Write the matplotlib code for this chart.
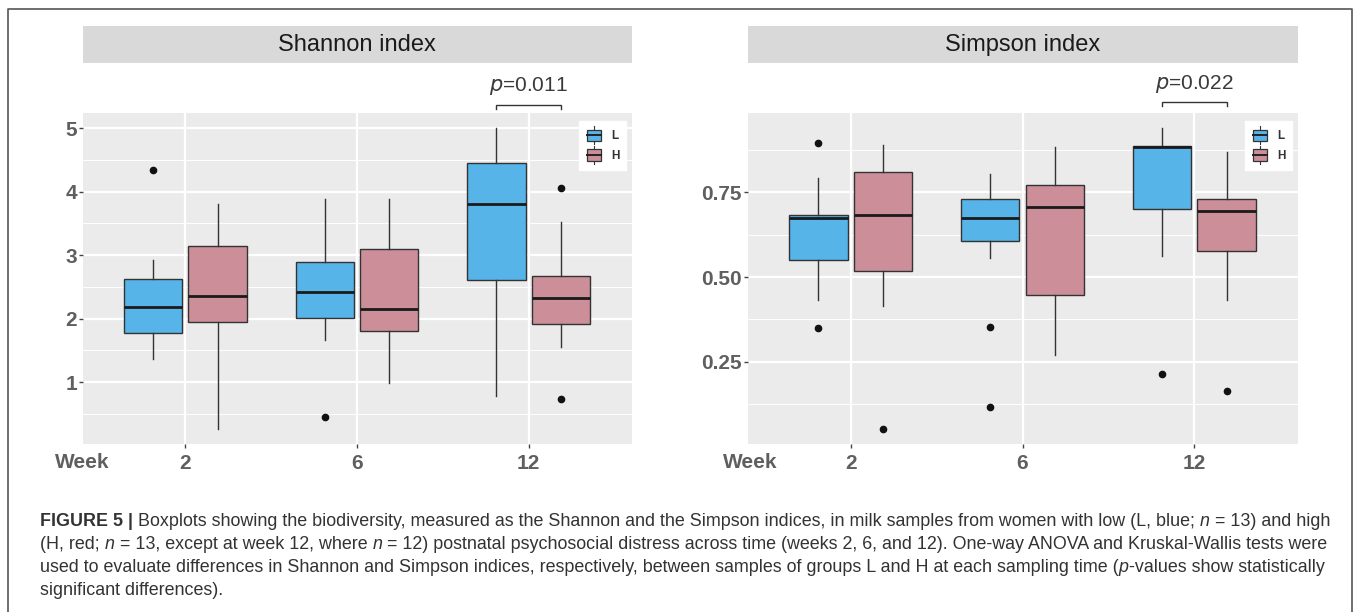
import matplotlib
matplotlib.use("Agg")
import matplotlib.pyplot as plt
from matplotlib.patches import Patch, Rectangle
from matplotlib.lines import Line2D
from matplotlib.legend_handler import HandlerBase

plt.rcParams['font.family'] = ['Liberation Sans', 'DejaVu Sans']

# ---------------- data ----------------
weeks = ['2', '6', '12']
groups = ['L', 'H']
group_colors = ['#56B4E9', '#CC8F9A']

# Shannon index
sh_L_whislo = [1.37, 1.67, 0.78]
sh_L_q1 = [1.77, 2.01, 2.61]
sh_L_med = [2.18, 2.42, 3.81]
sh_L_q3 = [2.63, 2.90, 4.45]
sh_L_whishi = [2.93, 3.89, 5.00]
sh_L_fliers = [[4.34], [0.45], []]

sh_H_whislo = [0.26, 0.99, 1.55]
sh_H_q1 = [1.94, 1.81, 1.91]
sh_H_med = [2.36, 2.15, 2.32]
sh_H_q3 = [3.14, 3.09, 2.67]
sh_H_whishi = [3.81, 3.88, 3.52]
sh_H_fliers = [[], [], [4.06, 0.74]]

# Simpson index
si_L_whislo = [0.433, 0.557, 0.562]
si_L_q1 = [0.551, 0.605, 0.701]
si_L_med = [0.673, 0.673, 0.885]
si_L_q3 = [0.682, 0.731, 0.887]
si_L_whishi = [0.792, 0.803, 0.939]
si_L_fliers = [[0.896, 0.351], [0.353, 0.117], [0.214]]

si_H_whislo = [0.416, 0.269, 0.432]
si_H_q1 = [0.518, 0.448, 0.578]
si_H_med = [0.684, 0.706, 0.696]
si_H_q3 = [0.809, 0.772, 0.730]
si_H_whishi = [0.889, 0.885, 0.869]
si_H_fliers = [[0.052], [], [0.164]]

sh_yticks = [1, 2, 3, 4, 5]
sh_yticklabels = ['1', '2', '3', '4', '5']
si_yticks = [0.25, 0.50, 0.75]
si_yticklabels = ['0.25', '0.50', '0.75']

panel_titles = ['Shannon index', 'Simpson index']
p_labels = ['0.011', '0.022']
p_week_index = 2

caption_lines = [
    [("FIGURE 5 | ", 'bold'), ("Boxplots showing the biodiversity, measured as the Shannon and the Simpson indices, in milk samples from women with low (L, blue; ", 'normal'),
     ("n", 'italic'), (" = 13) and high", 'normal')],
    [("(H, red; ", 'normal'), ("n", 'italic'), (" = 13, except at week 12, where ", 'normal'), ("n", 'italic'),
     (" = 12) postnatal psychosocial distress across time (weeks 2, 6, and 12). One-way ANOVA and Kruskal-Wallis tests were", 'normal')],
    [("used to evaluate differences in Shannon and Simpson indices, respectively, between samples of groups L and H at each sampling time (", 'normal'),
     ("p", 'italic'), ("-values show statistically", 'normal')],
    [("significant differences).", 'normal')],
]

# ---------------- figure ----------------
W, H = 1360, 612
fig = plt.figure(figsize=(W / 100, H / 100), dpi=100)
fig.patch.set_facecolor('white')

def fx(px):
    return px / W

def fy(py):
    return 1 - py / H

PANEL_BG = '#EBEBEB'
STRIP_BG = '#D9D9D9'
TICK_COL = '#5f5f5f'
DODGE = 0.1875
BOX_W = 0.34


class BoxKey(HandlerBase):
    def create_artists(self, legend, orig_handle, xdescent, ydescent,
                       width, height, fontsize, trans):
        fc = orig_handle.get_facecolor()
        cx = width / 2 - xdescent
        bw = width * 0.8
        bh = height * 0.62
        y0 = (height - bh) / 2 - ydescent
        rect = Rectangle((cx - bw / 2, y0), bw, bh, facecolor=fc,
                         edgecolor='#333333', lw=0.9, transform=trans)
        med = Line2D([cx - bw / 2, cx + bw / 2], [y0 + bh / 2] * 2,
                     color='#222222', lw=1.4, transform=trans)
        w1 = Line2D([cx, cx], [-ydescent, y0], color='#333333', lw=0.8, transform=trans)
        w2 = Line2D([cx, cx], [y0 + bh, height - ydescent], color='#333333', lw=0.8, transform=trans)
        return [w1, w2, rect, med]


def draw_panel(ax_rect, strip_rect, title, stats_L, stats_H, ylim, yticks, yticklabels,
               minor, p_text, p_y, p_tick, p_text_y, week_x_px):
    ax = fig.add_axes(ax_rect)
    ax.set_facecolor(PANEL_BG)
    for s in ax.spines.values():
        s.set_visible(False)
    pos = list(range(len(weeks)))
    for stats, off, col in ((stats_L, -DODGE, group_colors[0]), (stats_H, DODGE, group_colors[1])):
        ax.bxp(stats, positions=[p + off for p in pos], widths=BOX_W, showcaps=False,
               patch_artist=True, manage_ticks=False,
               boxprops=dict(facecolor=col, edgecolor='#333333', linewidth=1.0),
               medianprops=dict(color='#1a1a1a', linewidth=2.0),
               whiskerprops=dict(color='#333333', linewidth=1.0),
               flierprops=dict(marker='o', markerfacecolor='#111111', markeredgecolor='#111111',
                               markersize=4.5, linestyle='none'), zorder=3)
    ax.set_xlim(-0.6, len(weeks) - 0.4)
    ax.set_ylim(*ylim)
    ax.set_xticks(pos)
    ax.set_xticklabels(weeks)
    ax.set_yticks(yticks)
    ax.set_yticklabels(yticklabels)
    ax.set_yticks(minor, minor=True)
    ax.grid(True, which='major', color='white', linewidth=1.6, zorder=0)
    ax.grid(True, which='minor', axis='y', color='white', linewidth=0.7, zorder=0)
    ax.set_axisbelow(True)
    ax.tick_params(axis='both', which='major', length=3, width=1, color='#444444',
                   labelsize=15, labelcolor=TICK_COL)
    ax.tick_params(axis='x', pad=4)
    ax.tick_params(axis='y', pad=1)
    ax.tick_params(which='minor', length=0)
    for lab in ax.get_xticklabels() + ax.get_yticklabels():
        lab.set_fontweight('bold')
    # p-value bracket
    x1 = p_week_index - DODGE
    x2 = p_week_index + DODGE
    ax.plot([x1, x1, x2, x2], [p_tick, p_y, p_y, p_tick], color='#333333', lw=1.0,
            clip_on=False, solid_joinstyle='miter')
    ax.text(p_week_index, p_text_y, r'$\it{p}$=' + p_text, ha='center', va='center',
            fontsize=15, color='#3a3a3a', clip_on=False)
    # legend
    handles = [Patch(facecolor=c, edgecolor='#333333') for c in group_colors]
    leg = ax.legend(handles, groups, loc='upper right', bbox_to_anchor=(0.99, 0.978),
                    handler_map={Patch: BoxKey()}, frameon=True, fancybox=False,
                    facecolor='white', edgecolor='white', framealpha=1,
                    prop=dict(size=8.5, weight='bold'), handlelength=1.45, handleheight=1.95,
                    labelspacing=0.15, borderpad=0.5, handletextpad=0.8, borderaxespad=0)
    for t in leg.get_texts():
        t.set_color('#333333')
    # strip
    sax = fig.add_axes(strip_rect)
    sax.set_facecolor(STRIP_BG)
    sax.set_xticks([])
    sax.set_yticks([])
    for s in sax.spines.values():
        s.set_visible(False)
    sax.text(0.5, 0.5, title, ha='center', va='center', fontsize=17, color='#1a1a1a',
             transform=sax.transAxes)
    # Week label
    fig.text(fx(week_x_px), fy(463), 'Week', ha='left', va='center', fontsize=15,
             fontweight='bold', color=TICK_COL)
    return ax


def mkstats(whislo, q1, med, q3, whishi, fliers):
    return [dict(whislo=a, q1=b, med=c, q3=d, whishi=e, fliers=f)
            for a, b, c, d, e, f in zip(whislo, q1, med, q3, whishi, fliers)]


sh_L = mkstats(sh_L_whislo, sh_L_q1, sh_L_med, sh_L_q3, sh_L_whishi, sh_L_fliers)
sh_H = mkstats(sh_H_whislo, sh_H_q1, sh_H_med, sh_H_q3, sh_H_whishi, sh_H_fliers)
si_L = mkstats(si_L_whislo, si_L_q1, si_L_med, si_L_q3, si_L_whishi, si_L_fliers)
si_H = mkstats(si_H_whislo, si_H_q1, si_H_med, si_H_q3, si_H_whishi, si_H_fliers)

ax_top, ax_bot = 113.3, 444.0
strip_top, strip_bot = 26.0, 63.3

L_x0, L_x1 = 82.5, 631.5
R_x0, R_x1 = 747.5, 1297.5

ax1 = draw_panel([fx(L_x0), fy(ax_bot), fx(L_x1 - L_x0), (ax_bot - ax_top) / H],
                 [fx(L_x0), fy(strip_bot), fx(L_x1 - L_x0), (strip_bot - strip_top) / H],
                 panel_titles[0], sh_L, sh_H, (0.023, 5.237), sh_yticks, sh_yticklabels,
                 [0.5, 1.5, 2.5, 3.5, 4.5], p_labels[0], 5.36, 5.30, 5.66, 55)
ax2 = draw_panel([fx(R_x0), fy(ax_bot), fx(R_x1 - R_x0), (ax_bot - ax_top) / H],
                 [fx(R_x0), fy(strip_bot), fx(R_x1 - R_x0), (strip_bot - strip_top) / H],
                 panel_titles[1], si_L, si_H, (0.0077, 0.983), si_yticks, si_yticklabels,
                 [0.125, 0.375, 0.625, 0.875], p_labels[1], 1.017, 1.005, 1.07, 723)

# outer frame (open at the bottom)
fig.add_artist(Line2D([fx(8), fx(8), fx(1352), fx(1352)], [0, fy(9), fy(9), 0],
                      color='#555555', lw=1.2, transform=fig.transFigure))

# caption with mixed styles
renderer = fig.canvas.get_renderer()
CAP_SIZE = 12.85
CAP_COL = '#333333'


def run_width(s, style):
    kw = dict(fontsize=CAP_SIZE)
    if style == 'bold':
        kw['fontweight'] = 'bold'
    elif style == 'italic':
        kw['fontstyle'] = 'italic'
    t1 = fig.text(0, 0, s + '.', **kw)
    t2 = fig.text(0, 0, '.', **kw)
    w = t1.get_window_extent(renderer).width - t2.get_window_extent(renderer).width
    t1.remove()
    t2.remove()
    return w, kw


line_y = [526, 549, 572, 595]
for runs, yb in zip(caption_lines, line_y):
    x = 40.0
    for s, style in runs:
        w, kw = run_width(s, style)
        fig.text(fx(x), fy(yb), s, va='baseline', ha='left', color=CAP_COL, **kw)
        x += w

fig.savefig('out.png', dpi=100, facecolor='white')
